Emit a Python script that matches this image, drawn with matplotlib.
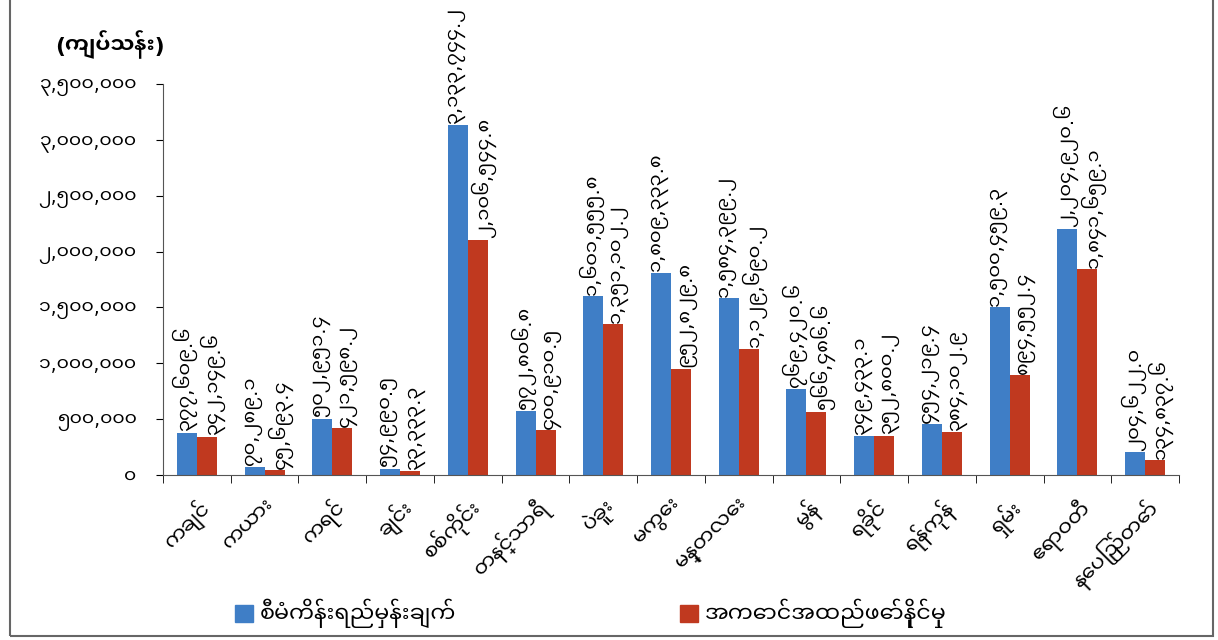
import numpy as np
import matplotlib
matplotlib.use('Agg')
import matplotlib.pyplot as plt
from matplotlib.ticker import FuncFormatter
from matplotlib.patches import Rectangle, Patch

# တိုင်းဒေသကြီး/ပြည်နယ်များ
regions = ['ကချင်', 'ကယား', 'ကရင်', 'ချင်း', 'စစ်ကိုင်း', 'တနင်္သာရီ', 'ပဲခူး', 'မကွေး',
           'မန္တလေး', 'မွန်', 'ရခိုင်', 'ရန်ကုန်', 'ရှမ်း', 'ဧရာဝတီ', 'နေပြည်တော်']

# စီမံကိန်းရည်မှန်းချက် (ကျပ်သန်း)
plan = [377609.6, 70289.1, 502951.4, 54990.5, 3133744.2, 572806.8, 1601555.8, 1809333.8,
        1584399.2, 769420.6, 349433.1, 454219.4, 1500459.3, 2204920.6, 204622.0]

# အကောင်အထည်ဖော်နိုင်မှု (ကျပ်သန်း)
actual = [342149.6, 45693.4, 421598.2, 33333.3, 2106544.8, 400910.5, 1351102.2, 952829.8,
          1129690.2, 566486.6, 352800.2, 384102.9, 894552.4, 1841659.1, 134837.6]

y_ticks = [0, 500000, 1000000, 1500000, 2000000, 2500000, 3000000, 3500000]

legend_labels = ['စီမံကိန်းရည်မှန်းချက်', 'အကောင်အထည်ဖော်နိုင်မှု']
unit_label = '(ကျပ်သန်း)'

plt.rcParams['font.family'] = ['Noto Sans Myanmar UI', 'DejaVu Sans']

mm_table = str.maketrans('0123456789', '၀၁၂၃၄၅၆၇၈၉')


def mm_num(v, dec=0):
    return f'{v:,.{dec}f}'.translate(mm_table)


blue = '#3F7EC6'
red = '#C0391F'

fig = plt.figure(figsize=(12.18, 6.4), dpi=100)
ax = fig.add_axes([163 / 1218, 1 - 475 / 640, (1179 - 163) / 1218, (475 - 84) / 640])

x = np.arange(len(regions))
w = 0.295
b1 = ax.bar(x - w / 2, plan, w, color=blue)
b2 = ax.bar(x + w / 2, actual, w, color=red)

# ဘားတွေအပေါ်က တန်ဖိုးစာသား
for bars, vals, dx in ((b1, plan, -1.5), (b2, actual, 4)):
    for r, v in zip(bars, vals):
        ax.annotate(mm_num(v, 1), (r.get_x() + r.get_width() / 2, v), xytext=(dx, 1),
                    textcoords='offset points', rotation=90, ha='center', va='bottom',
                    fontsize=14, annotation_clip=False)

ax.set_xlim(-0.5, len(regions) - 0.5)
ax.set_ylim(0, 3500000)
ax.set_yticks(y_ticks)
ax.yaxis.set_major_formatter(FuncFormatter(lambda v, p: mm_num(v)))
ax.tick_params(axis='y', labelsize=13.5, length=5, direction='out', pad=14)

ax.set_xticks(x)
ax.set_xticklabels(regions, rotation=45, ha='right', rotation_mode='anchor', fontsize=15)
ax.set_xticks(np.arange(len(regions) + 1) - 0.5, minor=True)
ax.tick_params(axis='x', which='major', length=0, pad=14)
ax.tick_params(axis='x', which='minor', length=6, direction='out')

for s in ('top', 'right'):
    ax.spines[s].set_visible(False)
ax.spines['left'].set_color('#555555')
ax.spines['bottom'].set_color('#555555')

fig.text(110 / 1218, 1 - 45 / 640, unit_label, ha='center', va='center',
         fontsize=15.5, fontweight='bold')

fig.legend(handles=[Patch(color=blue)], labels=[legend_labels[0]], loc='center left',
           bbox_to_anchor=(215 / 1218, 1 - 613 / 640), frameon=False, fontsize=16,
           handlelength=0.8, handleheight=0.8, handletextpad=0.3)
fig.legend(handles=[Patch(color=red)], labels=[legend_labels[1]], loc='center left',
           bbox_to_anchor=(660 / 1218, 1 - 613 / 640), frameon=False, fontsize=16,
           handlelength=0.8, handleheight=0.8, handletextpad=0.3)

# ပုံဘောင်
fig.patches.append(Rectangle((10 / 1218, 4 / 640), 1203 / 1218, 640, transform=fig.transFigure,
                             fill=False, edgecolor='#666666', linewidth=1.5))

fig.savefig('out.png', dpi=100)
